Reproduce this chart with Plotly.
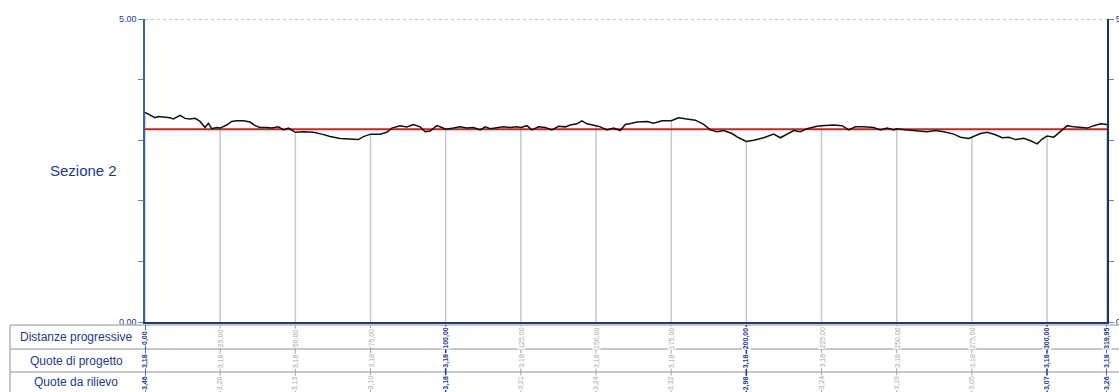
import plotly.graph_objects as go

# Rilievo longitudinale - Sezione 2
dist = [0, 1.66, 3.33, 4.44, 6.10, 8.32, 9.43, 11.65, 13.31, 14.98, 16.64, 18.30, 19.97, 21.08,
        22.19, 23.85, 25, 27.18, 28.84, 30.51, 32.72, 34.94, 36.61, 38.27, 40.49, 42.15, 44.37,
        46.03, 47.70, 48.81, 50, 52.69, 56.02, 58.79, 61.56, 64.89, 68.22, 70.99, 72.66, 75,
        78.20, 80.42, 82.09, 84.86, 87.08, 89.30, 91.51, 93.18, 94.84, 97.06, 98.72, 100,
        102.61, 104.83, 107.04, 109.26, 111.48, 113.14, 114.81, 117.03, 119.25, 121.46, 123.68,
        125, 127.01, 128.68, 130.89, 133.11, 135.33, 137.55, 139.77, 141.43, 143.65, 145.31,
        146.98, 150, 151.41, 153.63, 155.85, 158.07, 159.73, 161.95, 163.62, 166.95, 169.16,
        171.94, 175, 177.48, 180.26, 183.03, 185.80, 188.02, 190.24, 192.46, 195.23, 197.45,
        200, 202.44, 205.77, 209.10, 211.31, 213.53, 215.75, 217.97, 220.19, 223.52, 225,
        229.06, 231.84, 234.05, 236.27, 239.05, 242.37, 244.59, 246.81, 249.03, 250, 253.47,
        256.80, 260.12, 262.90, 265.67, 269.00, 271.21, 273.99, 275, 277.87, 280.09, 282.86,
        285.08, 287.30, 289.52, 292.29, 294.51, 296.73, 298.39, 300, 302.27, 304.49, 306.71,
        308.93, 311.15, 313.37, 315.58, 317.80, 319.95]
quota = [3.46, 3.41, 3.37, 3.39, 3.38, 3.37, 3.35, 3.41, 3.36, 3.35, 3.36, 3.31, 3.21, 3.28,
         3.19, 3.21, 3.20, 3.25, 3.31, 3.32, 3.32, 3.30, 3.24, 3.21, 3.21, 3.20, 3.22,
         3.17, 3.20, 3.17, 3.13, 3.14, 3.13, 3.10, 3.06, 3.03, 3.02, 3.01, 3.06, 3.10,
         3.10, 3.13, 3.20, 3.24, 3.22, 3.26, 3.22, 3.14, 3.15, 3.24, 3.21, 3.18,
         3.20, 3.22, 3.20, 3.21, 3.17, 3.22, 3.19, 3.21, 3.22, 3.21, 3.22,
         3.21, 3.24, 3.17, 3.22, 3.21, 3.17, 3.23, 3.22, 3.25, 3.27, 3.32,
         3.27, 3.24, 3.22, 3.17, 3.20, 3.16, 3.26, 3.28, 3.30, 3.31, 3.28,
         3.32, 3.32, 3.37, 3.35, 3.33, 3.26, 3.17, 3.14, 3.16, 3.11, 3.04,
         2.98, 3.00, 3.04, 3.10, 3.04, 3.10, 3.16, 3.14, 3.19, 3.23, 3.24,
         3.25, 3.24, 3.17, 3.22, 3.22, 3.21, 3.17, 3.20, 3.17, 3.19, 3.17,
         3.16, 3.14, 3.16, 3.14, 3.10, 3.05, 3.03, 3.05, 3.11, 3.13, 3.09,
         3.04, 3.05, 3.01, 3.03, 2.99, 2.94, 3.02, 3.07, 3.05, 3.14, 3.24,
         3.22, 3.21, 3.20, 3.24, 3.27, 3.26]

# Stazioni di tabella
stazioni = [0, 25, 50, 75, 100, 125, 150, 175, 200, 225, 250, 275, 300, 319.95]
quote_progetto = [3.18] * 14
quote_rilievo = [3.46, 3.20, 3.13, 3.10, 3.18, 3.21, 3.24, 3.32, 2.98, 3.24, 3.19, 3.05, 3.07, 3.26]
principali = [0, 100, 200, 300, 319.95]

righe = ["Distanze progressive", "Quote di progetto", "Quote da rilievo"]

NAVY = "#1c3a8c"
GRIGIO = "#b4b4b4"
FONT = "Liberation Sans Narrow, Arial Narrow, Liberation Sans, Arial, sans-serif"

W, H = 1119, 392
ML, MR, MT, MB = 145, 12, 19, 70
PW = W - ML - MR
PH = H - MT - MB


def px(xpix):
    """pixel column -> paper x"""
    return (xpix - ML) / PW


def py(ypix):
    """pixel row -> paper y"""
    return (H - MB - ypix) / PH


def it(v):
    return f"{v:.2f}".replace(".", ",")


fig = go.Figure()

# linee verticali dalle stazioni fino al terreno
vx, vy = [], []
for s, q in zip(stazioni, quote_rilievo):
    vx += [s, s, None]
    vy += [0, q, None]
fig.add_trace(go.Scatter(x=vx, y=vy, mode="lines", line=dict(color="#c8c8c8", width=1.5),
                         hoverinfo="skip", showlegend=False))

# quota di progetto
fig.add_trace(go.Scatter(x=stazioni, y=quote_progetto, mode="lines",
                         line=dict(color="#c0282a", width=2), showlegend=False))

# profilo da rilievo
fig.add_trace(go.Scatter(x=dist, y=quota, mode="lines",
                         line=dict(color="#111111", width=1.5), showlegend=False))

# asse destro
fig.add_trace(go.Scatter(x=[stazioni[-1]], y=[0], yaxis="y2", mode="markers",
                         marker=dict(opacity=0), hoverinfo="skip", showlegend=False))

shapes = []
annotations = []

# linea tratteggiata superiore
shapes.append(dict(type="line", xref="paper", yref="y", x0=0, x1=1, y0=5, y1=5,
                   line=dict(color="#9a9a9a", width=1, dash="dot")))

# griglia tabella
for yp in (325, 349, 372):
    shapes.append(dict(type="line", xref="paper", yref="paper", x0=px(10), x1=px(W),
                       y0=py(yp), y1=py(yp), line=dict(color=GRIGIO, width=1.5)))
shapes.append(dict(type="line", xref="paper", yref="paper", x0=px(10), x1=px(10),
                   y0=py(325), y1=py(H), line=dict(color=GRIGIO, width=1.5)))

# etichette righe
for r, yc in zip(righe, (337, 361, 382)):
    annotations.append(dict(text=r, xref="paper", yref="paper", x=px(76), y=py(yc),
                            showarrow=False, xanchor="center", yanchor="middle",
                            font=dict(family=FONT, size=12, color=NAVY)))

# valori in tabella
for s, qp, qr in zip(stazioni, quote_progetto, quote_rilievo):
    main = s in principali
    col = NAVY if main else "#a8a8a8"
    shapes.append(dict(type="line", xref="x", yref="paper", x0=s, x1=s, y0=py(325), y1=py(H),
                       line=dict(color=col, width=1.5 if main else 1)))
    for txt, yc in zip((it(s), it(qp), it(qr)), (338, 361, 383)):
        annotations.append(dict(text=f"<b>{txt}</b>" if main else txt, xref="x", yref="paper",
                                x=s, y=py(yc), showarrow=False, textangle=-90,
                                xanchor="center", yanchor="middle",
                                bgcolor="white", borderpad=0,
                                font=dict(family=FONT, size=7, color=col)))

# titolo sezione
annotations.append(dict(text="Sezione 2", xref="paper", yref="paper", x=px(83), y=py(170),
                        showarrow=False, xanchor="center", yanchor="middle",
                        font=dict(family=FONT, size=15, color=NAVY)))

fig.update_layout(
    width=W, height=H,
    margin=dict(l=ML, r=MR, t=MT, b=MB, pad=0, autoexpand=False),
    paper_bgcolor="white", plot_bgcolor="white",
    xaxis=dict(range=[0, stazioni[-1]], showgrid=False, zeroline=False, showticklabels=False,
               showline=True, linecolor="#223a78", linewidth=2, ticks="", automargin=False),
    yaxis=dict(range=[0, 5], tickvals=[0, 1, 2, 3, 4, 5],
               ticktext=["0.00", "", "", "", "", "5.00"], ticks="outside", ticklen=5,
               tickcolor="#6a86b8", showgrid=False, zeroline=False, showline=True,
               linecolor="#3a64a8", linewidth=1.5, automargin=False,
               tickfont=dict(family=FONT, size=9, color=NAVY)),
    yaxis2=dict(range=[0, 5], overlaying="y", side="right", tickvals=[0, 1, 2, 3, 4, 5],
                ticktext=["0", "", "", "", "", "5.00"], ticks="outside", ticklen=5,
                tickcolor="#6a86b8", showgrid=False, zeroline=False, showline=True,
                linecolor="#1c2f6a", linewidth=2, automargin=False,
                tickfont=dict(family=FONT, size=9, color=NAVY)),
    shapes=shapes, annotations=annotations,
)

fig.write_html("out.html")
